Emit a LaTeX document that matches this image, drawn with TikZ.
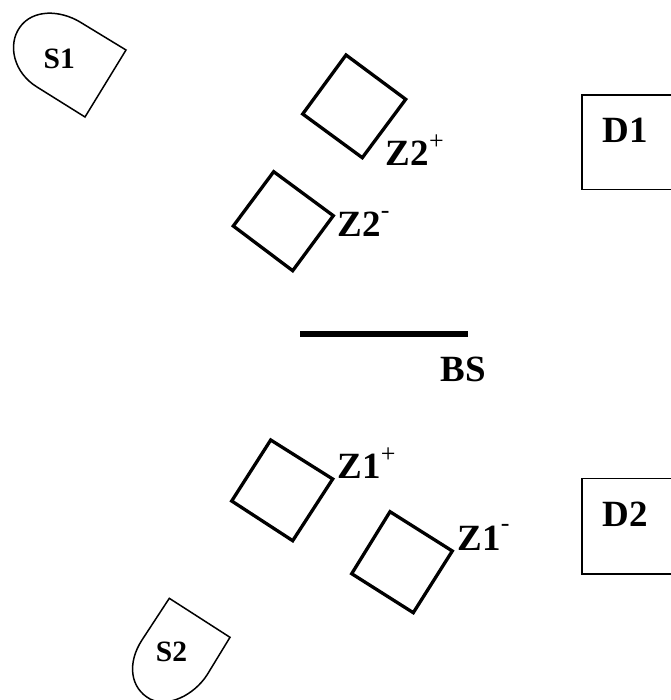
\documentclass[tikz,border=0pt]{standalone}
\usepackage{fontspec}
\setmainfont{Liberation Serif}
\tikzset{
  zbox/.style={draw=black,line width=3.3pt,line join=miter},
  srcshape/.style={draw=black,line width=1.5pt,line join=miter},
  det/.style={draw=black,line width=1.7pt,line join=miter},
  lab/.style={font=\bfseries\fontsize{37}{37}\selectfont,inner sep=0pt,anchor=base west},
  slab/.style={font=\bfseries\fontsize{29.5}{30}\selectfont,inner sep=0pt,anchor=base west}
}
\newcommand{\sqp}{\raisebox{16pt}{\fontsize{26}{26}\mdseries\selectfont +}}
\newcommand{\sqm}{\raisebox{18.5pt}{\fontsize{26}{26}\mdseries\selectfont -}}
\begin{document}
\begin{tikzpicture}[x=1pt,y=-1pt]
\useasboundingbox (0,0) rectangle (670,700);
\draw[srcshape] (126,50) -- (80,22) .. controls (60,10) and (33,9) .. (20,27) .. controls (7,45) and (14,73) .. (37,87) -- (85,117) -- cycle;
\node[slab] (s1) at (43.5,69) {S1};
\draw[srcshape] (169.3,598.3) -- (230,637.3) -- (207,675) .. controls (194,695) and (168,708) .. (150,699) .. controls (130,688) and (127,663) .. (142,640) -- cycle;
\node[slab] (s2) at (155.7,661.7) {S2};
\draw[zbox] (346,55) -- (405.7,99.3) -- (362.3,157.7) -- (302.7,114) -- cycle;
\draw[zbox] (273.7,171.7) -- (333.3,215.7) -- (292.7,270.7) -- (233.3,226) -- cycle;
\draw[zbox] (270.7,440) -- (332.7,479) -- (292.7,540.7) -- (231.7,501) -- cycle;
\draw[zbox] (390,511.7) -- (452.3,551) -- (413.3,612.7) -- (351.7,573.7) -- cycle;
\node[lab] (z2p) at (385.7,165.7) {Z2\sqp};
\node[lab] (z2m) at (337.5,236.7) {Z2\sqm};
\node[lab] (z1p) at (337.5,478) {Z1\sqp};
\node[lab] (z1m) at (457.5,550) {Z1\sqm};
\draw[det] (671,94.8) -- (582,94.8) -- (582,189.5) -- (671,189.5);
\draw[det] (671,478.5) -- (582,478.5) -- (582,574) -- (671,574);
\node[lab] (d1) at (602.7,142.7) {D1};
\node[lab] (d2) at (602.7,526.7) {D2};
\draw[line width=6pt,black] (300,334) -- (468,334);
\node[lab] (bs) at (440.7,381.7) {BS};
\end{tikzpicture}
\end{document}
